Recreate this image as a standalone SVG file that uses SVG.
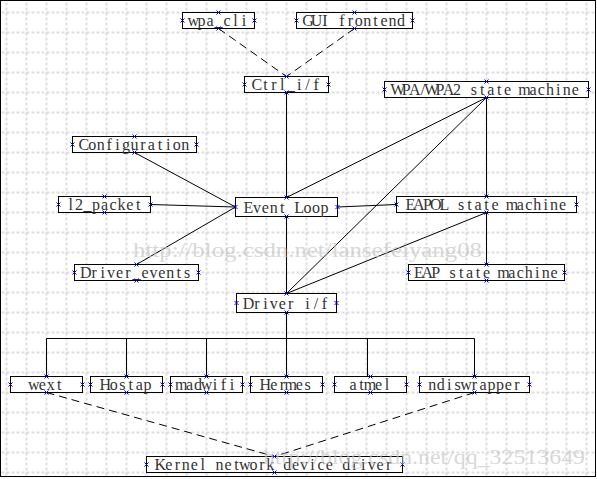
<svg xmlns="http://www.w3.org/2000/svg" xmlns:xlink="http://www.w3.org/1999/xlink" width="597" height="479" viewBox="0 0 597 479">
<style>
.box{fill:#fff;stroke:#000;stroke-width:1}
.t{font-family:"Liberation Serif","DejaVu Serif",serif;font-size:16px;fill:#333;text-anchor:middle}
.c{fill:none;stroke:#000;stroke-width:1}
.d{fill:none;stroke:#000;stroke-width:1;stroke-dasharray:8,5}
.wm{font-family:"Liberation Serif","DejaVu Serif",serif;font-size:20px;fill:#c4c4c4;opacity:0.65}
</style>
<defs>
<pattern id="grid" x="-3.5" y="2.5" width="20" height="20" patternUnits="userSpaceOnUse">
<path d="M10,0V20M0,10H20" stroke="#bdbdbd" stroke-width="1" stroke-dasharray="3,2" fill="none"/>
</pattern>
<path id="m" d="M-2,-2L2,2M-2,2L2,-2" stroke="#0000ff" stroke-width="1" fill="none"/>
</defs>
<rect x="0" y="0" width="597" height="479" fill="#fff"/>
<rect x="0.5" y="0.5" width="595" height="476" fill="url(#grid)" stroke="#000" stroke-width="1"/>
<g id="connectors">
<path class="d" d="M218.5,28.5L286.5,76.5M354.5,28.5L286.5,76.5"/>
<path class="c" d="M286.5,92.5V197.5"/>
<path class="c" d="M134.5,152.5L235.5,207"/>
<path class="c" d="M150.5,204.5L235.5,207"/>
<path class="c" d="M136.5,264.5L235.5,207"/>
<path class="c" d="M337.5,207L396.5,204.5"/>
<path class="c" d="M486.5,97.5L286.5,197.5"/>
<path class="c" d="M486.5,97.5L286.5,293.5"/>
<path class="c" d="M486.5,97.5V196.5"/>
<path class="c" d="M486.5,212.5V264.5"/>
<path class="c" d="M486.5,212.5L286.5,293.5"/>
<path class="c" d="M286.5,216.5V293.5"/>
<path class="c" d="M286.5,312.5V376.5"/>
<path class="c" d="M46.5,376.5V338.5H474.5V376.5M126.5,338.5V376.5M206.5,338.5V376.5M367.5,338.5V376.5"/>
<path class="d" d="M46.5,392.5L274.5,456.5M474.5,392.5L274.5,456.5"/>
</g>
<g id="wpa_cli"><rect class="box" x="182.5" y="12.5" width="72" height="16"/><text class="t" x="193.2 201.6 210.1 218.5 227 235.4 243.9" y="25.5">wpa_cli</text>
<use xlink:href="#m" x="218.5" y="12.5"/><use xlink:href="#m" x="218.5" y="28.5"/><use xlink:href="#m" x="182.5" y="20.5"/><use xlink:href="#m" x="254.5" y="20.5"/></g>
<g id="gui"><rect class="box" x="296.5" y="12.5" width="116" height="16"/><text class="t" x="308 316.5 324.9 333.4 341.8 350.3 358.7 367.2 375.6 384.1 392.5 401" y="25.5">GUI frontend</text>
<use xlink:href="#m" x="354.5" y="12.5"/><use xlink:href="#m" x="354.5" y="28.5"/><use xlink:href="#m" x="296.5" y="20.5"/><use xlink:href="#m" x="412.5" y="20.5"/></g>
<g id="ctrl"><rect class="box" x="244.5" y="76.5" width="84" height="16"/><text class="t" x="256.9 265.4 273.8 282.3 290.7 299.2 307.6 316.1" y="89.5">Ctrl_i/f</text>
<use xlink:href="#m" x="286.5" y="76.5"/><use xlink:href="#m" x="286.5" y="92.5"/><use xlink:href="#m" x="244.5" y="84.5"/><use xlink:href="#m" x="328.5" y="84.5"/></g>
<g id="wpa2"><rect class="box" x="384.5" y="81.5" width="204" height="16"/><text class="t" x="397.8 406.2 414.7 423.1 431.6 440 448.5 456.9 465.4 473.8 482.3 490.7 499.2 507.6 516.1 524.5 533 541.4 549.9 558.3 566.8 575.2" y="94.5">WPA/WPA2 state machine</text>
<use xlink:href="#m" x="486.5" y="81.5"/><use xlink:href="#m" x="486.5" y="97.5"/><use xlink:href="#m" x="384.5" y="89.5"/><use xlink:href="#m" x="588.5" y="89.5"/></g>
<g id="config"><rect class="box" x="72.5" y="136.5" width="124" height="16"/><text class="t" x="83.8 92.2 100.7 109.1 117.6 126 134.5 143 151.4 159.9 168.3 176.8 185.2" y="149.5">Configuration</text>
<use xlink:href="#m" x="134.5" y="136.5"/><use xlink:href="#m" x="134.5" y="152.5"/><use xlink:href="#m" x="72.5" y="144.5"/><use xlink:href="#m" x="196.5" y="144.5"/></g>
<g id="l2"><rect class="box" x="58.5" y="196.5" width="92" height="16"/><text class="t" x="70.7 79.1 87.6 96 104.5 113 121.4 129.9 138.3" y="209.5">l2_packet</text>
<use xlink:href="#m" x="104.5" y="196.5"/><use xlink:href="#m" x="104.5" y="212.5"/><use xlink:href="#m" x="58.5" y="204.5"/><use xlink:href="#m" x="150.5" y="204.5"/></g>
<g id="event"><rect class="box" x="235.5" y="197.5" width="102" height="19"/><text class="t" x="248.5 256.9 265.4 273.8 282.3 290.7 299.2 307.6 316.1 324.5" y="212.5">Event Loop</text>
<use xlink:href="#m" x="286.5" y="197.5"/><use xlink:href="#m" x="286.5" y="216.5"/><use xlink:href="#m" x="235.5" y="207"/><use xlink:href="#m" x="337.5" y="207"/></g>
<g id="eapol"><rect class="box" x="396.5" y="196.5" width="180" height="16"/><text class="t" x="410.5 418.9 427.4 435.8 444.3 452.7 461.2 469.6 478.1 486.5 495 503.4 511.9 520.3 528.8 537.2 545.7 554.1 562.6" y="209.5">EAPOL state machine</text>
<use xlink:href="#m" x="486.5" y="196.5"/><use xlink:href="#m" x="486.5" y="212.5"/><use xlink:href="#m" x="396.5" y="204.5"/><use xlink:href="#m" x="576.5" y="204.5"/></g>
<g id="drvev"><rect class="box" x="74.5" y="264.5" width="124" height="16"/><text class="t" x="85.8 94.2 102.7 111.1 119.6 128 136.5 145 153.4 161.9 170.3 178.8 187.2" y="277.5">Driver_events</text>
<use xlink:href="#m" x="136.5" y="264.5"/><use xlink:href="#m" x="136.5" y="280.5"/><use xlink:href="#m" x="74.5" y="272.5"/><use xlink:href="#m" x="198.5" y="272.5"/></g>
<g id="eap"><rect class="box" x="408.5" y="264.5" width="156" height="16"/><text class="t" x="418.9 427.4 435.8 444.3 452.7 461.2 469.6 478.1 486.5 495 503.4 511.9 520.3 528.8 537.2 545.7 554.1" y="277.5">EAP state machine</text>
<use xlink:href="#m" x="486.5" y="264.5"/><use xlink:href="#m" x="486.5" y="280.5"/><use xlink:href="#m" x="408.5" y="272.5"/><use xlink:href="#m" x="564.5" y="272.5"/></g>
<g id="drvif"><rect class="box" x="236.5" y="293.5" width="100" height="19"/><text class="t" x="248.5 256.9 265.4 273.8 282.3 290.7 299.2 307.6 316.1 324.5" y="308.5">Driver i/f</text>
<use xlink:href="#m" x="286.5" y="293.5"/><use xlink:href="#m" x="286.5" y="312.5"/><use xlink:href="#m" x="236.5" y="303"/><use xlink:href="#m" x="336.5" y="303"/></g>
<g id="wext"><rect class="box" x="10.5" y="376.5" width="72" height="16"/><text class="t" x="33.8 42.3 50.7 59.2" y="389.5">wext</text>
<use xlink:href="#m" x="46.5" y="376.5"/><use xlink:href="#m" x="46.5" y="392.5"/><use xlink:href="#m" x="10.5" y="384.5"/><use xlink:href="#m" x="82.5" y="384.5"/></g>
<g id="hostap"><rect class="box" x="90.5" y="376.5" width="72" height="16"/><text class="t" x="105.4 113.8 122.3 130.7 139.2 147.6" y="389.5">Hostap</text>
<use xlink:href="#m" x="126.5" y="376.5"/><use xlink:href="#m" x="126.5" y="392.5"/><use xlink:href="#m" x="90.5" y="384.5"/><use xlink:href="#m" x="162.5" y="384.5"/></g>
<g id="madwifi"><rect class="box" x="170.5" y="376.5" width="72" height="16"/><text class="t" x="181.2 189.6 198.1 206.5 215 223.4 231.9" y="389.5">madwifi</text>
<use xlink:href="#m" x="206.5" y="376.5"/><use xlink:href="#m" x="206.5" y="392.5"/><use xlink:href="#m" x="170.5" y="384.5"/><use xlink:href="#m" x="242.5" y="384.5"/></g>
<g id="hermes"><rect class="box" x="250.5" y="376.5" width="72" height="16"/><text class="t" x="265.4 273.8 282.3 290.7 299.2 307.6" y="389.5">Hermes</text>
<use xlink:href="#m" x="286.5" y="376.5"/><use xlink:href="#m" x="286.5" y="392.5"/><use xlink:href="#m" x="250.5" y="384.5"/><use xlink:href="#m" x="322.5" y="384.5"/></g>
<g id="atmel"><rect class="box" x="334.5" y="376.5" width="72" height="16"/><text class="t" x="353.1 361.6 370 378.5 386.9" y="389.5">atmel</text>
<use xlink:href="#m" x="370.5" y="376.5"/><use xlink:href="#m" x="370.5" y="392.5"/><use xlink:href="#m" x="334.5" y="384.5"/><use xlink:href="#m" x="406.5" y="384.5"/></g>
<g id="ndis"><rect class="box" x="419.5" y="376.5" width="110" height="16"/><text class="t" x="432.3 440.7 449.2 457.6 466.1 474.5 483 491.4 499.9 508.3 516.8" y="389.5">ndiswrapper</text>
<use xlink:href="#m" x="474.5" y="376.5"/><use xlink:href="#m" x="474.5" y="392.5"/><use xlink:href="#m" x="419.5" y="384.5"/><use xlink:href="#m" x="529.5" y="384.5"/></g>
<g id="kernel"><rect class="box" x="146.5" y="456.5" width="256" height="16"/><text class="t" x="160.4 168.9 177.3 185.8 194.2 202.7 211.1 219.6 228 236.5 244.9 253.4 261.8 270.3 278.7 287.2 295.6 304.1 312.5 321 329.4 337.9 346.3 354.8 363.2 371.7 380.1 388.6" y="469.5">Kernel network device driver</text>
<use xlink:href="#m" x="274.5" y="456.5"/><use xlink:href="#m" x="274.5" y="472.5"/><use xlink:href="#m" x="146.5" y="464.5"/><use xlink:href="#m" x="402.5" y="464.5"/></g>
<g id="watermarks">
<text class="wm" x="133" y="257" textLength="349" lengthAdjust="spacingAndGlyphs">http://blog.csdn.net/lansefeiyang08</text>
<text class="wm" x="263" y="464" textLength="322" lengthAdjust="spacingAndGlyphs">http://blog.csdn.net/qq_32513649</text>
</g>
</svg>
